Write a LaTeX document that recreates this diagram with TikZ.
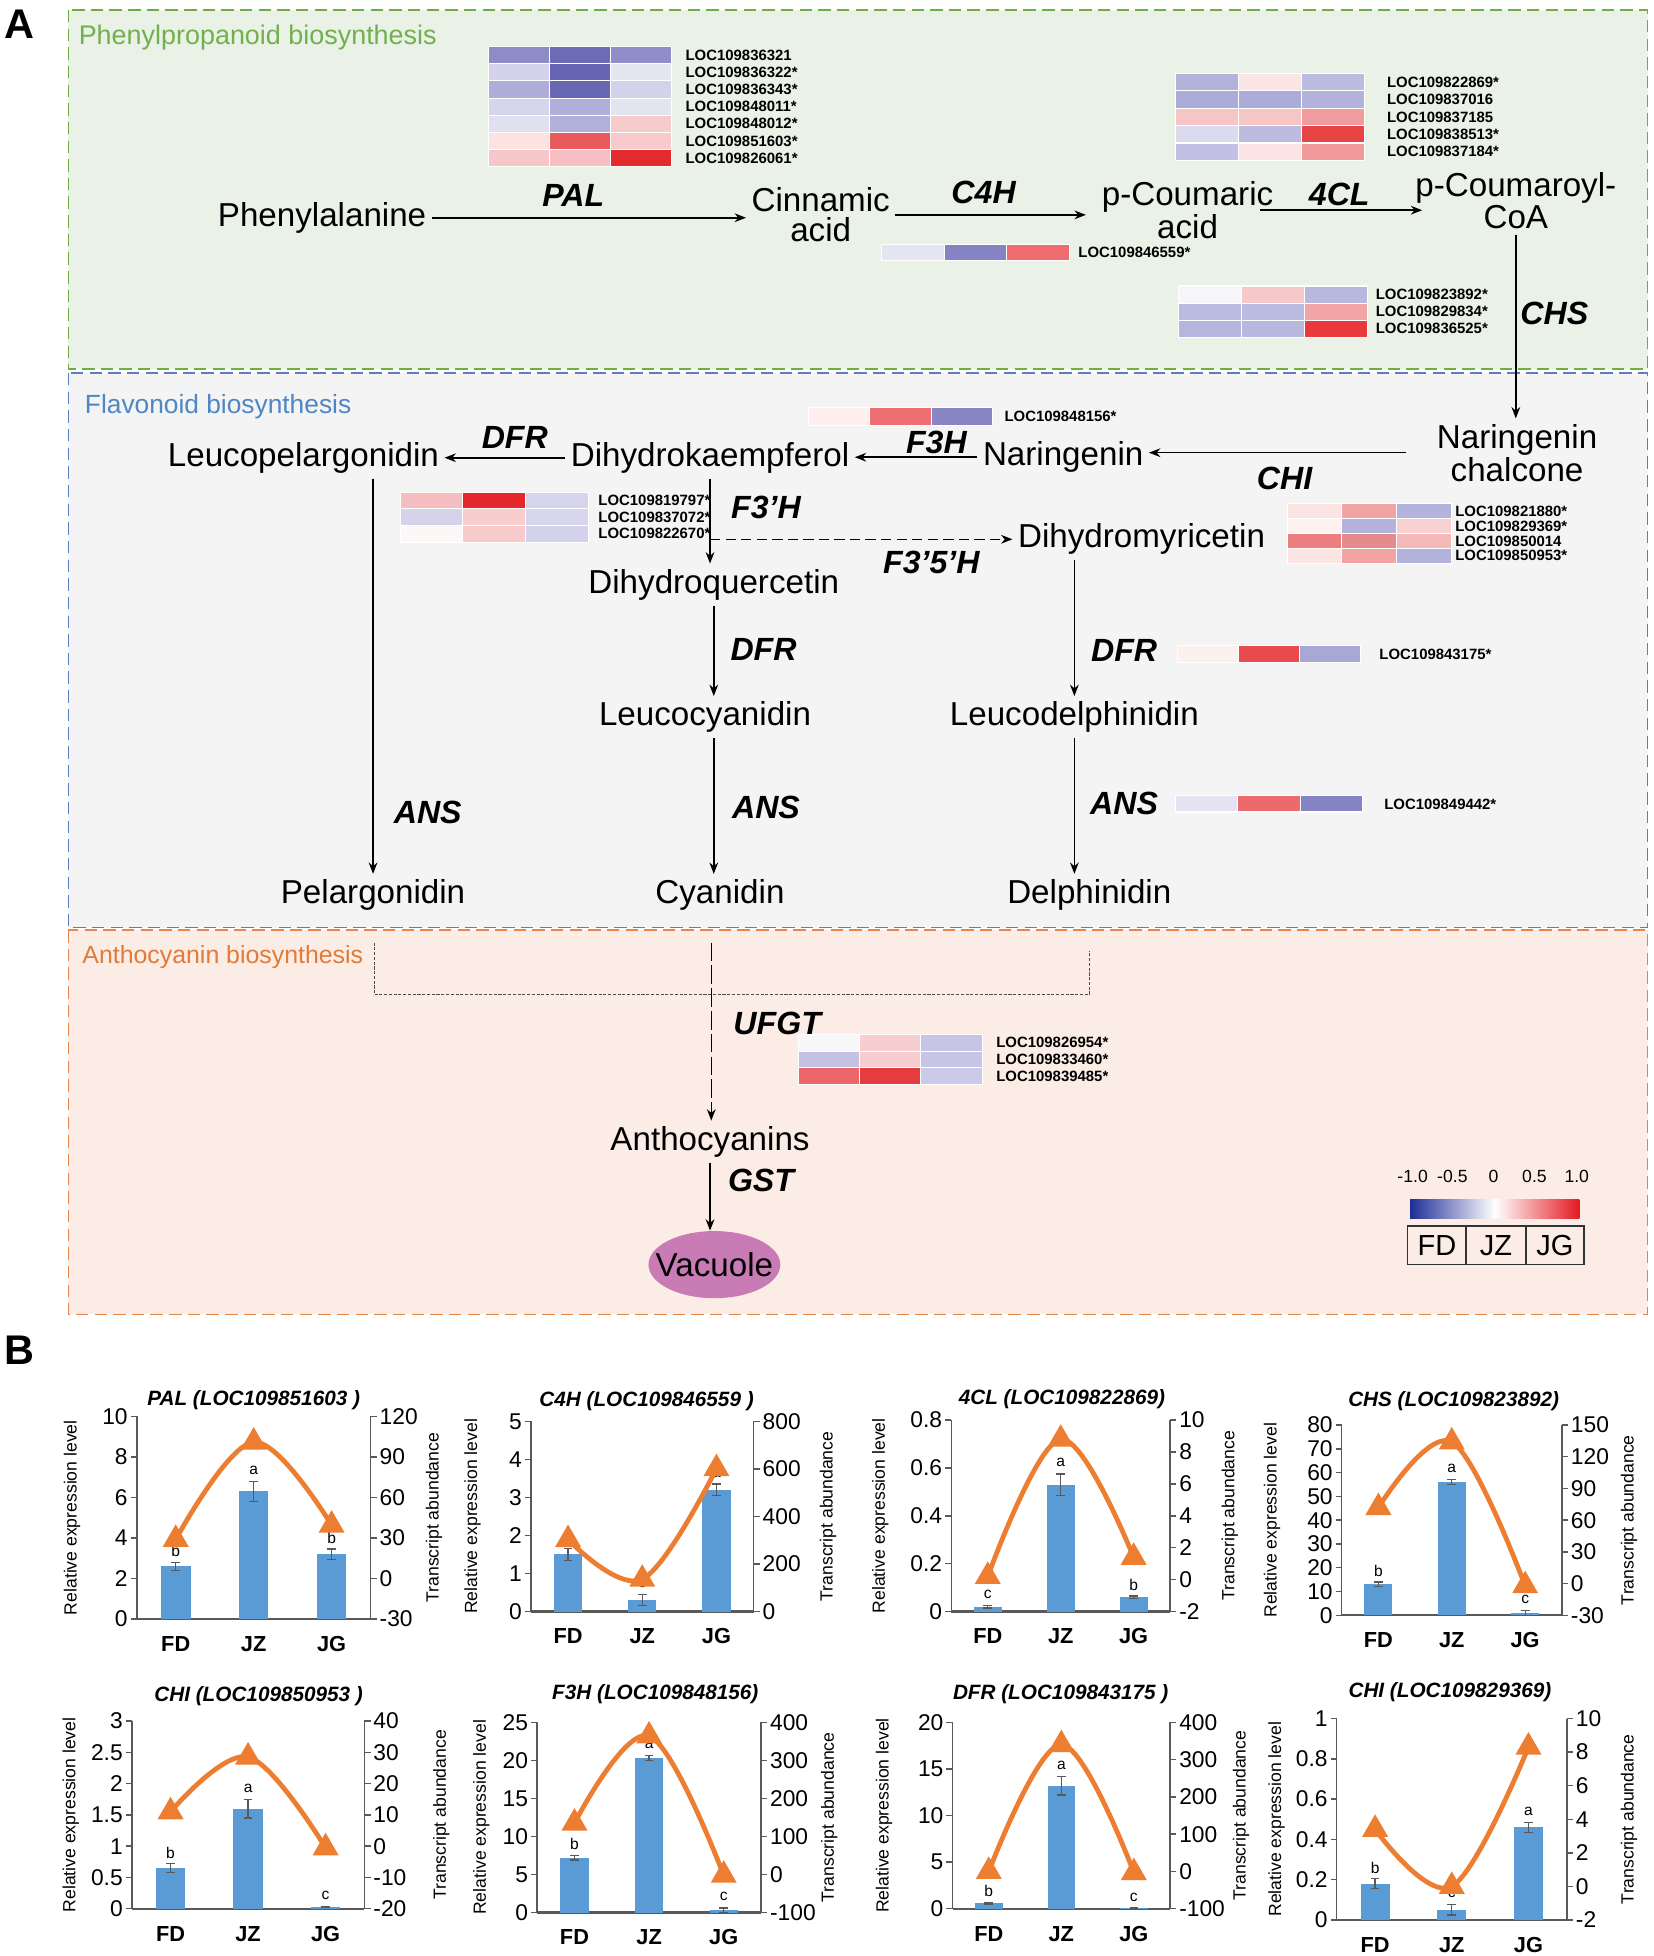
\documentclass[tikz,border=0pt]{standalone}
\usepackage{fontspec}
\setmainfont{Liberation Sans}
\usetikzlibrary{arrows.meta,shapes.geometric}

\definecolor{grfill}{HTML}{EAF1E6}
\definecolor{grline}{HTML}{70AD47}
\definecolor{grtext}{HTML}{72B04E}
\definecolor{blfill}{HTML}{F3F4F3}
\definecolor{blline}{HTML}{5A7EC0}
\definecolor{bltext}{HTML}{4F86C6}
\definecolor{orfill}{HTML}{FBEDE5}
\definecolor{orline}{HTML}{E8864A}
\definecolor{ortext}{HTML}{E07B39}
\definecolor{vaccol}{HTML}{C97BB5}
\definecolor{barcol}{HTML}{5B9BD5}
\definecolor{linecol}{HTML}{ED7D31}
\definecolor{axcol}{HTML}{595959}
\definecolor{lgblue}{HTML}{1E2E96}
\definecolor{lgred}{HTML}{E31A22}

\tikzset{
  cmpd/.style={font=\fontsize{16}{14.4}\selectfont, inner sep=2.5pt, align=center},
  enzlab/.style={font=\fontsize{15.5}{16}\selectfont\bfseries\itshape, inner sep=0pt},
  parrow/.style={draw=black, line width=0.75pt, -{Stealth[length=5.5pt,width=4.2pt]}},
  dasharrow/.style={parrow, dash pattern=on 5pt off 2.5pt},
  ufarrow/.style={parrow, dash pattern=on 9pt off 2pt},
  bracketline/.style={draw=black!70, line width=0.6pt, dash pattern=on 1.5pt off 0.8pt},
  loclab/.style={font=\fontsize{7.2}{8}\selectfont\bfseries, anchor=west, inner sep=0pt},
  hmcell/.style={draw=white, line width=0.5pt},
  seclab/.style={anchor=west, inner sep=0pt},
  secbox/.style={line width=0.8pt, dash pattern=on 6pt off 3pt},
  panlab/.style={font=\fontsize{20}{22}\selectfont\bfseries, inner sep=0pt, anchor=base west},
  caxis/.style={draw=axcol, line width=0.7pt},
  cbase/.style={draw=axcol, line width=1.1pt},
  ticklab/.style={font=\fontsize{11}{12}\selectfont, inner sep=0pt},
  catlab/.style={font=\fontsize{10.5}{11}\selectfont\bfseries, inner sep=0pt},
  alab/.style={font=\fontsize{8.5}{9}\selectfont, inner sep=0pt},
  ctitle/.style={font=\fontsize{10}{11}\selectfont\bfseries\itshape, inner sep=0pt},
  siglet/.style={font=\fontsize{7.5}{8}\selectfont, inner sep=0pt},
  errbar/.style={draw=axcol, line width=0.6pt},
  oline/.style={draw=linecol, line width=2.3pt},
  trimark/.style={regular polygon, regular polygon sides=3, fill=linecol, inner sep=0pt, minimum size=14.5pt},
  lgtext/.style={font=\fontsize{8.5}{9}\selectfont, inner sep=0pt},
  lgbox/.style={font=\fontsize{14}{15}\selectfont, inner sep=0pt}
}

% heatmap: name, x0, y0, cell w, cell h, label gap, rows
\newcommand{\heat}[7]{%
  \foreach \hca/\hcb/\hcc/\hlab [count=\hr from 0] in {#7}{%
    \edef\tmpdef{\noexpand\definecolor{hA}{HTML}{\hca}\noexpand\definecolor{hB}{HTML}{\hcb}\noexpand\definecolor{hC}{HTML}{\hcc}}\tmpdef
    \path[hmcell, fill=hA] (#2,{#3+\hr*#5}) rectangle ++(#4,#5);
    \path[hmcell, fill=hB] ({#2+#4},{#3+\hr*#5}) rectangle ++(#4,#5);
    \path[hmcell, fill=hC] ({#2+2*#4},{#3+\hr*#5}) rectangle ++(#4,#5);
    \node[loclab] (#1-\hr) at ({#2+3*#4+#6},{#3+(\hr+0.5)*#5}) {\hlab};
  }%
}

% chart geometry: xl, xr, ybottom, ytop, leftmax, rightmin, rightmax, left label offset, right label offset
\newcommand{\setchart}[9]{%
  \def\cxl{#1}\def\cxr{#2}\def\cyb{#3}\def\cyt{#4}%
  \def\clmax{#5}\def\crmin{#6}\def\crmax{#7}\def\cll{#8}\def\crl{#9}%
  \pgfmathsetmacro\cw{(#2-#1)/3}%
  \pgfmathsetmacro\cbw{0.38*(#2-#1)/3}%
  \pgfmathsetmacro\cym{(#3+#4)/2}%
}

% axes: name, title x, title y, title, left ticks, right ticks
\newcommand{\chartaxes}[6]{%
  \node[ctitle] (#1-title) at (#2,#3) {#4};
  \draw[caxis] (\cxl,\cyt) -- (\cxl,\cyb);
  \draw[caxis] (\cxr,\cyt) -- (\cxr,\cyb);
  \foreach \tk [count=\kk] in {#5}{%
    \pgfmathsetmacro\ty{\cyb+(\cyt-\cyb)*((\tk)/(\clmax))}%
    \draw[caxis] (\cxl-5,\ty) -- (\cxl,\ty);
    \node[ticklab, anchor=east] (#1-l\kk) at (\cxl-7,\ty) {\tk};
  }%
  \foreach \tk [count=\kk] in {#6}{%
    \pgfmathsetmacro\ty{\cyb+(\cyt-\cyb)*(((\tk)-(\crmin))/((\crmax)-(\crmin)))}%
    \draw[caxis] (\cxr,\ty) -- (\cxr+5,\ty);
    \node[ticklab, anchor=west] (#1-r\kk) at (\cxr+7,\ty) {\tk};
  }%
  \draw[cbase] (\cxl,\cyb) -- (\cxr,\cyb);
  \foreach \catn [count=\kk from 0] in {FD,JZ,JG}{%
    \node[catlab] (#1-cat\kk) at ({\cxl+(\kk+0.5)*\cw},\cyb+20) {\catn};
  }%
  \node[alab, rotate=90] (#1-yl) at (\cxl-\cll,\cym) {Relative expression level};
  \node[alab, rotate=90] (#1-yr) at (\cxr+\crl,\cym) {Transcript abundance};
}

% data: name, bars (value/err/letter), line values r1 r2 r3
\newcommand{\chartdata}[5]{%
  \foreach \barv/\bare/\barl [count=\kk from 0] in {#2}{%
    \pgfmathsetmacro\cbx{\cxl+(\kk+0.5)*\cw}%
    \pgfmathsetmacro\btop{\cyb+(\cyt-\cyb)*((\barv)/(\clmax))}%
    \pgfmathsetmacro\ehi{\cyb+(\cyt-\cyb)*(((\barv)+(\bare))/(\clmax))}%
    \pgfmathsetmacro\elo{\cyb+(\cyt-\cyb)*(((\barv)-(\bare))/(\clmax))}%
    \fill[barcol] (\cbx-\cbw/2,\cyb) rectangle (\cbx+\cbw/2,\btop);
    \draw[errbar] (\cbx,\elo) -- (\cbx,\ehi) (\cbx-3.5,\elo) -- (\cbx+3.5,\elo) (\cbx-3.5,\ehi) -- (\cbx+3.5,\ehi);
    \node[siglet] (#1-sig\kk) at (\cbx,\ehi-9) {\barl};
  }%
  \pgfmathsetmacro\pxa{\cxl+0.5*\cw}%
  \pgfmathsetmacro\pxb{\cxl+1.5*\cw}%
  \pgfmathsetmacro\pxc{\cxl+2.5*\cw}%
  \pgfmathsetmacro\pya{\cyb+(\cyt-\cyb)*(((#3)-(\crmin))/((\crmax)-(\crmin)))}%
  \pgfmathsetmacro\pyb{\cyb+(\cyt-\cyb)*(((#4)-(\crmin))/((\crmax)-(\crmin)))}%
  \pgfmathsetmacro\pyc{\cyb+(\cyt-\cyb)*(((#5)-(\crmin))/((\crmax)-(\crmin)))}%
  \draw[oline] plot[smooth, tension=0.6] coordinates {(\pxa,\pya) (\pxb,\pyb) (\pxc,\pyc)};
  \node[trimark] (#1-t0) at (\pxa,\pya) {};
  \node[trimark] (#1-t1) at (\pxb,\pyb) {};
  \node[trimark] (#1-t2) at (\pxc,\pyc) {};
}

\begin{document}
\begin{tikzpicture}[x=0.6pt,y=-0.6pt]
\useasboundingbox (0,0) rectangle (1330,1573);
\fill[white] (0,0) rectangle (1330,1573);

% ---------- Panel A sections ----------
\draw[secbox, draw=grline, fill=grfill] (55,8) rectangle (1325,297);
\draw[secbox, draw=blline, fill=blfill] (55,300) rectangle (1325,746);
\draw[secbox, draw=orline, fill=orfill] (55,748) rectangle (1325,1057);

\node[panlab] (pA) at (3,31) {A};
\node[seclab, text=grtext, font=\fontsize{13}{14}\selectfont] (secP) at (63,30) {Phenylpropanoid biosynthesis};
\node[seclab, text=bltext, font=\fontsize{12.7}{14}\selectfont] (secF) at (68,327) {Flavonoid biosynthesis};
\node[seclab, text=ortext, font=\fontsize{12}{13}\selectfont] (secA) at (66,770) {Anthocyanin biosynthesis};

% ---------- compounds ----------
\node[cmpd, anchor=base] (phe) at (259,182) {Phenylalanine};
\node[cmpd, anchor=north] (cin) at (660,146.5) {Cinnamic\\acid};
\node[cmpd, anchor=north] (pcou) at (955,141.5) {p-Coumaric\\acid};
\node[cmpd, anchor=north] (pcoa) at (1219,134.5) {p-Coumaroyl-\\CoA};
\node[cmpd, anchor=north] (nch) at (1220,336.5) {Naringenin\\chalcone};
\node[cmpd, anchor=base] (nar) at (855,374.6) {Naringenin};
\node[cmpd, anchor=base] (dhk) at (571,375) {Dihydrokaempferol};
\node[cmpd, anchor=base] (lpel) at (244,375) {Leucopelargonidin};
\node[cmpd, anchor=base] (dhq) at (574,477) {Dihydroquercetin};
\node[cmpd, anchor=base] (dhm) at (918,440.6) {Dihydromyricetin};
\node[cmpd, anchor=base] (lcya) at (567,583.6) {Leucocyanidin};
\node[cmpd, anchor=base] (ldel) at (864,583.6) {Leucodelphinidin};
\node[cmpd, anchor=base] (pel) at (300,726.6) {Pelargonidin};
\node[cmpd, anchor=base] (cya) at (579,726.6) {Cyanidin};
\node[cmpd, anchor=base] (del) at (876,726.6) {Delphinidin};
\node[cmpd, anchor=base] (anth) at (571,925) {Anthocyanins};
\node[ellipse, fill=vaccol, minimum width=63.6pt, minimum height=32.4pt, inner xsep=-6pt, inner ysep=-6pt,
      font=\fontsize{16}{17}\selectfont] (vac) at (574.5,1017) {Vacuole};

% ---------- arrows ----------
\draw[parrow] (phe.east) -- (phe.east -| cin.west);
\draw[parrow, shorten >=5pt] (cin.east) -- (cin.east -| pcou.west);
\draw[parrow, shorten <=-9pt, shorten >=-6pt] (pcou.east) -- (pcou.east -| pcoa.west);
\draw[parrow] (pcoa.south) -- (pcoa.south |- nch.north);
\draw[parrow, shorten <=12pt] (nch.west) -- (nch.west -| nar.east);
\draw[parrow] (nar.west) -- (nar.west -| dhk.east);
\draw[parrow] (dhk.west) -- (dhk.west -| lpel.east);
\draw[parrow] (dhk.south) -- (dhk.south |- dhq.north);
\draw[dasharrow] (dhk.south |- dhm.west) -- (dhm.west);
\draw[parrow] (dhq.south) -- (dhq.south |- lcya.north);
\draw[parrow] (dhm.south -| ldel.north) -- (ldel.north);
\draw[parrow] (lpel.south -| pel.north) -- (pel.north);
\draw[parrow] (lcya.south -| dhq.south) -- (dhq.south |- cya.north);
\draw[parrow] (ldel.south) -- (ldel.south |- del.north);
\coordinate (brL) at (301,758);
\coordinate (brR) at (876,765);
\draw[bracketline] (brL) -- (301,800) -- (876,800) -- (brR);
\coordinate (ufs) at (572,758);
\draw[ufarrow] (ufs) -- (ufs |- anth.north);
\draw[parrow] (anth.south) -- (anth.south |- vac.north);

% ---------- enzyme labels ----------
\node[enzlab] (ePAL) at (461,157.5) {PAL};
\node[enzlab] (eC4H) at (791,155) {C4H};
\node[enzlab] (e4CL) at (1077,156) {4CL};
\node[enzlab] (eCHS) at (1250,252) {CHS};
\node[enzlab] (eCHI) at (1033,385) {CHI};
\node[enzlab] (eF3H) at (753,356) {F3H};
\node[enzlab] (eDFR1) at (414,352) {DFR};
\node[enzlab] (eF3pH) at (616,408) {F3’H};
\node[enzlab] (eF35H) at (749,452) {F3’5’H};
\node[enzlab] (eDFR2) at (614,522) {DFR};
\node[enzlab] (eDFR3) at (904,523) {DFR};
\node[enzlab] (eANS1) at (344,653) {ANS};
\node[enzlab] (eANS2) at (616,649) {ANS};
\node[enzlab] (eANS3) at (904,646) {ANS};
\node[enzlab] (eUFGT) at (625,823) {UFGT};
\node[enzlab] (eGST) at (612,949) {GST};

% ---------- heatmaps ----------
\heat{hPAL}{393}{37.5}{49}{13.8}{11}{8D8CC7/6C6BB6/8F8EC8/LOC109836321, D3D2EA/6665B3/E6E5F2/LOC109836322*, AFAED9/6867B4/D3D2EA/LOC109836343*, D6D5EB/B0AFDA/E4E4F1/LOC109848011*, E1E0F0/B1B0DA/F6CBCC/LOC109848012*, FCE3E2/E85A5B/F7C9CA/LOC109851603*, F6C6C8/F5BFC3/E32B2E/LOC109826061*}
\heat{h4CL}{945}{59}{50.7}{14}{18}{B3B2DB/FBE5E5/BCBBE0/LOC109822869*, ADACD8/ADACD8/B3B2DB/LOC109837016, F6C6C7/F6C6C7/F09B9D/LOC109837185, DCDBEE/BDBCE0/E84446/LOC109838513*, C2C1E3/FCE4E4/F09A9C/LOC109837184*}
\heat{hC4H}{709}{197}{50.3}{12.5}{7}{E6E5F2/8483C3/EE6B6E/LOC109846559*}
\heat{hCHS}{948}{230}{50.7}{13.7}{6}{F6F5F8/F7C8CA/B8B7DE/LOC109823892*, BBBAE0/BBBAE0/F2A5A7/LOC109829834*, B6B5DD/B8B7DE/E8393C/LOC109836525*}
\heat{hF3H}{650}{328}{49.5}{14}{9}{FDF0EE/EE6E71/8785C4/LOC109848156*}
\heat{hF3pH}{322}{396}{50.3}{13.3}{8}{F5BDBF/E5262A/D5D4EB/LOC109819797*, D4D3EA/F7CDCE/D7D6EC/LOC109837072*, FBF8F7/F7CACB/D3D2EA/LOC109822670*}
\heat{hCHI}{1035}{405}{44}{12}{3}{FCE4E3/F2A3A4/B4B3DB/LOC109821880*, FDF2EF/B4B3DB/F7D0D2/LOC109829369*, ED7E80/E58A8D/F5B8B9/LOC109850014, FCE5E3/F2A3A4/B3B2DB/LOC109850953*}
\heat{hDFR}{947}{519}{49}{14}{15}{FDF1EE/E84A4D/A9A7D6/LOC109843175*}
\heat{hANS}{945}{640}{50.3}{13}{17}{E4E3F1/EC6A6D/8483C3/LOC109849442*}
\heat{hUFGT}{642}{832}{49.3}{13.3}{11}{F7F6F8/F6CDD0/C6C5E5/LOC109826954*, C3C2E3/F7CCD0/C6C5E5/LOC109833460*, EC6669/E43C3F/CCCBE7/LOC109839485*}

% ---------- legend ----------
\node[lgtext] (lg1) at (1136,946) {-1.0};
\node[lgtext] (lg2) at (1168,946) {-0.5};
\node[lgtext] (lg3) at (1201,946) {0};
\node[lgtext] (lg4) at (1234,946) {0.5};
\node[lgtext] (lg5) at (1268,946) {1.0};
\shade[left color=lgblue, right color=lgred, middle color=white] (1134,965) rectangle (1270,980);
\draw[black!80, line width=0.7pt] (1132,986) rectangle (1274,1017);
\draw[black!80, line width=0.7pt] (1179,986) -- (1179,1017) (1227,986) -- (1227,1017);
\node[lgbox] (lgFD) at (1155.5,1001.5) {FD};
\node[lgbox] (lgJZ) at (1203,1001.5) {JZ};
\node[lgbox] (lgJG) at (1250.5,1001.5) {JG};

% ---------- Panel B ----------
\node[panlab] (pB) at (3,1097) {B};

\setchart{110}{298}{1302}{1139}{10}{-30}{120}{52}{51}
\chartaxes{c1}{204}{1126}{PAL (LOC109851603 )}{0,2,4,6,8,10}{-30,0,30,60,90,120}
\chartdata{c1}{2.6/0.2/b,6.3/0.5/a,3.2/0.25/b}{29}{101}{39.5}

\setchart{427}{606}{1296}{1143}{5}{0}{800}{47}{60}
\chartaxes{c2}{520}{1127}{C4H (LOC109846559 )}{0,1,2,3,4,5}{0,200,400,600,800}
\chartdata{c2}{1.5/0.15/b,0.3/0.15/c,3.2/0.15/a}{303}{136}{601}

\setchart{765}{941}{1296}{1142}{0.8}{-2}{10}{57}{48}
\chartaxes{c3}{854}{1125}{4CL (LOC109822869)}{0,0.2,0.4,0.6,0.8}{-2,0,2,4,6,8,10}
\chartdata{c3}{0.02/0.005/c,0.53/0.045/a,0.06/0.005/b}{0.2}{8.8}{1.4}

\setchart{1079}{1256}{1299}{1146}{80}{-30}{150}{56}{54}
\chartaxes{c4}{1169}{1127}{CHS (LOC109823892)}{0,10,20,30,40,50,60,70,80}{-30,0,30,60,90,120,150}
\chartdata{c4}{13/1/b,56/1/a,1/1/c}{72}{134}{-2}

\setchart{106}{293}{1535}{1384}{3}{-20}{40}{49}{62}
\chartaxes{c5}{208}{1364}{CHI (LOC109850953 )}{0,0.5,1,1.5,2,2.5,3}{-20,-10,0,10,20,30,40}
\chartdata{c5}{0.65/0.07/b,1.6/0.15/a,0.03/0.01/c}{11}{28.5}{-0.5}

\setchart{432}{612}{1538}{1385}{25}{-100}{400}{45}{55}
\chartaxes{c6}{527}{1362}{F3H (LOC109848156)}{0,5,10,15,20,25}{-100,0,100,200,300,400}
\chartdata{c6}{7.2/0.3/b,20.3/0.3/a,0.3/0.3/c}{135}{364}{-2}

\setchart{766}{941}{1535}{1385}{20}{-100}{400}{55}{57}
\chartaxes{c7}{853}{1362}{DFR (LOC109843175 )}{0,5,10,15,20}{-100,0,100,200,300,400}
\chartdata{c7}{0.6/0.1/b,13.2/1.0/a,0.05/0.02/c}{0}{340}{-3}

\setchart{1075}{1260}{1544}{1382}{1}{-2}{10}{48.5}{50}
\chartaxes{c8}{1166}{1361}{CHI (LOC109829369)}{0,0.2,0.4,0.6,0.8,1}{-2,0,2,4,6,8,10}
\chartdata{c8}{0.18/0.025/b,0.05/0.025/c,0.46/0.025/a}{3.4}{0}{8.3}

\end{tikzpicture}
\end{document}
